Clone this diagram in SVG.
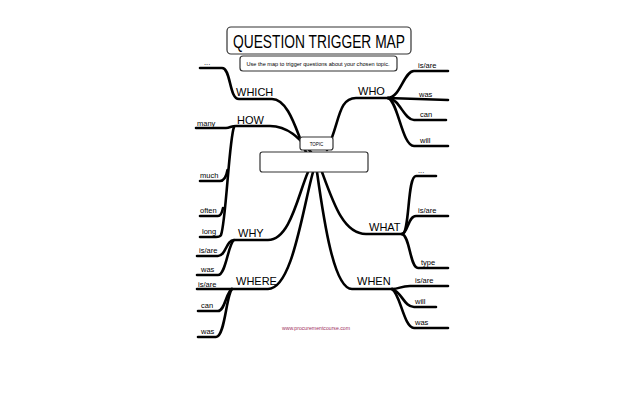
<svg xmlns="http://www.w3.org/2000/svg" width="640" height="398" viewBox="0 0 640 398">
<style>
.bx{fill:#fff;stroke:#333;stroke-width:1.2}
.ln{fill:none;stroke:#000;stroke-width:2.6;stroke-linecap:round;stroke-linejoin:round}
.t{font-family:"Liberation Sans",Arial,sans-serif;fill:#000}
.lb{font-size:7.5px}
.br{font-size:11px}
</style>
<rect width="640" height="398" fill="#fff"/>
<g id="title">
<rect class="bx" x="227" y="27" width="184" height="27" rx="4"/>
<text class="t" x="319" y="47.5" font-size="17.5" text-anchor="middle" textLength="172" lengthAdjust="spacingAndGlyphs">QUESTION TRIGGER MAP</text>
</g>
<g id="subtitle">
<rect class="bx" x="240" y="56" width="157" height="15" rx="3" stroke-width="0.8"/>
<text class="t" x="318" y="66" font-size="5.5" text-anchor="middle" textLength="143" lengthAdjust="spacingAndGlyphs">Use the map to trigger questions about your chosen topic.</text>
</g>
<g id="connectors">
<path class="ln" d="M200,68 L222,68 C231,68 229,99 239,99 L272,99 C290,99 298,138 306,152"/>
<path class="ln" d="M196,128 L226,128 C230,128 231,126 236,126 L270,126 C290,126 302,142 311,152"/>
<path class="ln" d="M234,127 C229,140 226,222 221,235 C220,237 218,237 216,237 L200,237"/>
<path class="ln" d="M200,181 L220,181 C224,181 226,178 227.5,170"/>
<path class="ln" d="M200,216 L218,216 C221,216 222,213 223,208"/>
<path class="ln" d="M308,172 C298,195 290,240 268,240 L234,240 C226,240 226,256 218,256 L197,256"/>
<path class="ln" d="M234,240 C228,244 226,275 218,275 L197,275"/>
<path class="ln" d="M313,172 C302,212 292,289 268,289 L197,289"/>
<path class="ln" d="M232,289 C226,292 225,311 218,311 L198,311"/>
<path class="ln" d="M232,289 C226,296 225,337 216,337 L198,337"/>
<path class="ln" d="M327,150 C340,122 338,98 356,98 L388,98"/>
<path class="ln" d="M388,98 C400,98 404,71 414,71 L448,71"/>
<path class="ln" d="M388,98 L448,100"/>
<path class="ln" d="M388,98 C400,99 404,120 414,120 L446,120"/>
<path class="ln" d="M388,98 C398,101 402,146 414,146 L448,146"/>
<path class="ln" d="M322,172 C334,205 344,234 366,234 L402,234"/>
<path class="ln" d="M402,234 C410,234 407,176 416,176 L436,176"/>
<path class="ln" d="M402,234 C408,233 408,216 416,216 L448,216"/>
<path class="ln" d="M402,234 C410,236 410,268 418,268 L448,268"/>
<path class="ln" d="M317,172 C324,222 334,289 352,289 L392,289"/>
<path class="ln" d="M392,289 C400,289 400,286 410,286 L448,286"/>
<path class="ln" d="M392,289 C402,292 404,307 414,307 L436,307"/>
<path class="ln" d="M392,289 C400,293 404,328 414,328 L448,328"/>
</g>
<g id="topic-label">
<rect class="bx" x="300" y="137" width="33" height="13" rx="2.5" stroke-width="0.8"/>
<text class="t" x="316.5" y="145.5" font-size="4.5" text-anchor="middle">TOPIC</text>
</g>
<g id="topic-box">
<rect class="bx" x="260" y="152" width="108" height="20" rx="2.5" stroke-width="0.9"/>
</g>
<g id="which">
<text class="t br" x="236" y="96">WHICH</text>
<text class="t lb" x="204" y="65">...</text>
</g>
<g id="how">
<text class="t br" x="237" y="124">HOW</text>
<text class="t lb" x="197" y="126">many</text>
<text class="t lb" x="200" y="178">much</text>
<text class="t lb" x="200" y="213">often</text>
<text class="t lb" x="202" y="234">long</text>
</g>
<g id="why">
<text class="t br" x="238" y="237">WHY</text>
<text class="t lb" x="199" y="253">is/are</text>
<text class="t lb" x="201" y="272">was</text>
</g>
<g id="where">
<text class="t br" x="236" y="285">WHERE</text>
<text class="t lb" x="198" y="287">is/are</text>
<text class="t lb" x="201" y="308">can</text>
<text class="t lb" x="201" y="334">was</text>
</g>
<g id="who">
<text class="t br" x="358" y="95">WHO</text>
<text class="t lb" x="418" y="68">is/are</text>
<text class="t lb" x="419" y="97">was</text>
<text class="t lb" x="420" y="117">can</text>
<text class="t lb" x="420" y="143">will</text>
</g>
<g id="what">
<text class="t br" x="369" y="231">WHAT</text>
<text class="t lb" x="418" y="173">...</text>
<text class="t lb" x="418" y="213">is/are</text>
<text class="t lb" x="421" y="265">type</text>
</g>
<g id="when">
<text class="t br" x="357" y="285">WHEN</text>
<text class="t lb" x="415" y="283">is/are</text>
<text class="t lb" x="415" y="304">will</text>
<text class="t lb" x="415" y="325">was</text>
</g>
<g id="footer">
<text class="t" x="316" y="330" font-size="4.5" style="fill:#a03060" text-anchor="middle" textLength="68" lengthAdjust="spacingAndGlyphs">www.procurementcourse.com</text>
</g>
</svg>
